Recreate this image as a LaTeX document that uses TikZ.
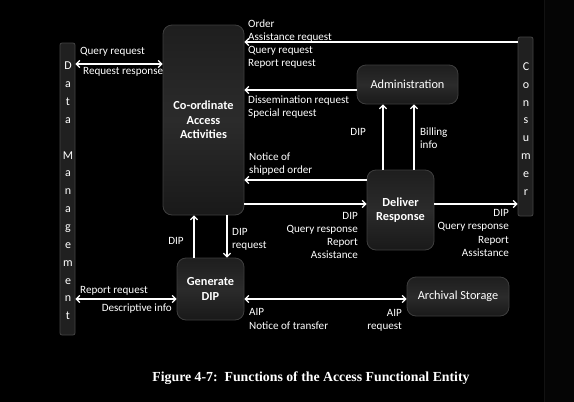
\documentclass[tikz,border=0pt]{standalone}
\usepackage{fontspec}
\setmainfont{Carlito}
\newfontfamily\capfont{Liberation Serif}
\usetikzlibrary{arrows.meta,shadings}
\begin{document}
\begin{tikzpicture}[x=1pt,y=-1pt,
  box/.style={draw=boxrim, line width=0.8pt, rounded corners=9pt, top color=boxtop, bottom color=boxbot, middle color=boxmid,
    text=white, font=\fontsize{12.3}{14.5}\selectfont\bfseries, align=center, inner sep=0pt},
  sbox/.style={box, font=\fontsize{12.3}{14.5}\selectfont},
  bar/.style={draw=barrim, line width=0.8pt, rounded corners=2pt, fill=barfill, inner sep=0pt},
  barlbl/.style={text=white, font=\fontsize{12}{17.85}\selectfont, align=center, inner sep=0pt},
  lbl/.style={text=white, font=\fontsize{11.1}{13.3}\selectfont, inner sep=0pt},
  arr/.style={draw=white, line width=1.3pt, -{Straight Barb[length=3.5pt,width=7pt]}},
  darr/.style={draw=white, line width=1.3pt, {Straight Barb[length=3.5pt,width=7pt]}-{Straight Barb[length=3.5pt,width=7pt]}},
]
\definecolor{boxrim}{HTML}{3E3E3E}
\definecolor{boxtop}{HTML}{1E1E1E}
\definecolor{boxmid}{HTML}{2B2B2B}
\definecolor{boxbot}{HTML}{191919}
\definecolor{barrim}{HTML}{444444}
\definecolor{barfill}{HTML}{202020}
\definecolor{faint}{HTML}{121212}
\definecolor{rightbg}{HTML}{050505}
\fill[black] (0,0) rectangle (574,402);
\useasboundingbox (0,0) rectangle (574,402);
\fill[rightbg] (544,0) rectangle (574,402);
\draw[faint, line width=0.6pt] (544,0) -- (544,402);

% bars
\node[bar, minimum width=15pt, minimum height=292pt] (dm) at (67.5,189) {};
\node[barlbl] (dmt) at (68,191) {D\\a\\t\\a\\[0pt]\strut\\M\\a\\n\\a\\g\\e\\m\\e\\n\\t};
\node[bar, minimum width=15pt, minimum height=179pt] (cons) at (525.5,126.5) {};
\node[barlbl] (const) at (526,129) {C\\o\\n\\s\\u\\m\\e\\r};

% boxes
\node[box, minimum width=81pt, minimum height=190pt] (cca) at (203.5,120) {Co-ordinate\\Access\\Activities};
\node[sbox, minimum width=101pt, minimum height=39pt] (adm) at (407.5,84.5) {Administration};
\node[box, minimum width=67pt, minimum height=80pt] (del) at (400.5,210) {Deliver\\Response};
\node[box, minimum width=67pt, minimum height=62pt] (gen) at (210.5,289) {Generate\\DIP};
\node[sbox, minimum width=102pt, minimum height=39pt] (arch) at (458,296.5) {Archival Storage};

% connectors
\draw[darr] (dm.east |- 0,64) -- (cca.west |- 0,64);
\draw[arr] (cons.west |- 0,42) -- (cca.east |- 0,42);
\draw[arr] (adm.west |- 0,90) -- (cca.east |- 0,90);
\draw[arr] (del.west |- 0,180) -- (cca.east |- 0,180);
\draw[arr] (cca.east |- 0,204) -- (del.west |- 0,204);
\draw[arr] (del.east |- 0,204) -- (cons.west |- 0,204);
\draw[arr] (del.north -| 383,0) -- (adm.south -| 383,0);
\draw[arr] (del.north -| 414,0) -- (adm.south -| 414,0);
\draw[arr] (gen.north -| 194,0) -- (cca.south -| 194,0);
\draw[arr] (cca.south -| 227,0) -- (gen.north -| 227,0);
\draw[darr] (dm.east |- 0,299) -- (gen.west |- 0,299);
\draw[darr] (gen.east |- 0,299) -- (arch.west |- 0,299);

% labels
\node[lbl, anchor=west] (l1) at (80,52) {Query request};
\node[lbl, anchor=west] (l2) at (83,72) {Request response};
\node[lbl, anchor=west, align=left] (l3) at (248,44) {Order\\Assistance request\\Query request\\Report request};
\node[lbl, anchor=west, align=left] (l4) at (248,107) {Dissemination request\\Special request};
\node[lbl, anchor=west, align=left] (l5) at (249,164) {Notice of\\shipped order};
\node[lbl, anchor=east, align=right] (l6) at (358,235.5) {DIP\\Query response\\Report\\Assistance};
\node[lbl, anchor=east, align=right] (l7) at (509,233) {DIP\\Query response\\Report\\Assistance};
\node[lbl, anchor=east] (l8) at (366,132) {DIP};
\node[lbl, anchor=west, align=left] (l9) at (420,138) {Billing\\info};
\node[lbl] (l10) at (176,241) {DIP};
\node[lbl, anchor=west, align=left] (l11) at (232,239) {DIP\\request};
\node[lbl, anchor=west] (l12) at (80,291) {Report request};
\node[lbl, anchor=east] (l13) at (172,309) {Descriptive info};
\node[lbl, anchor=west, align=left] (l14) at (249,319) {AIP\\Notice of transfer};
\node[lbl, anchor=east, align=right] (l15) at (402,320) {AIP\\request};

\node[text=white, font=\capfont\fontsize{13.8}{16}\selectfont\bfseries, inner sep=0pt] (cap) at (311,378) {Figure 4-7:\ \ Functions of the Access Functional Entity};
\end{tikzpicture}
\end{document}
